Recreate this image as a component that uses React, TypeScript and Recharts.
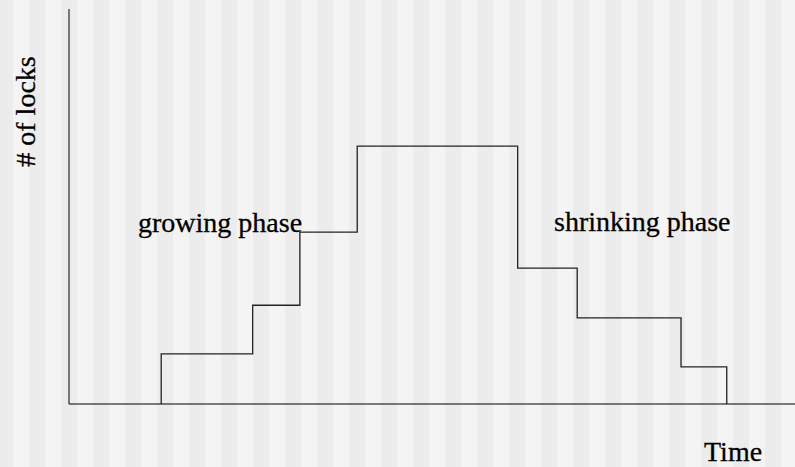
import React from 'react';
import { LineChart, Line, XAxis, YAxis, Customized } from 'recharts';

// time (0-100 across the axis) at which the lock count changes
const times = [12.7, 12.7, 25.3, 31.8, 39.7, 61.8, 70, 84.3, 90.6];
// number of locks held from that moment on (0-10 scale)
const locks = [0, 1.27, 2.5, 4.35, 6.53, 3.44, 2.18, 0.94, 0];

const phaseLabels = ['growing phase', 'shrinking phase'];
const yTitle = '# of locks';
const xTitle = 'Time';

const chartData = times.map((t, i) => ({ t, n: locks[i] }));

const font = '"Liberation Serif", "Times New Roman", serif';

const Texts = () => (
  <g fontFamily={font} fontSize={28} fill="#000" stroke="#000" strokeWidth={0.3}>
    <text x={138} y={232}>{phaseLabels[0]}</text>
    <text x={554} y={231}>{phaseLabels[1]}</text>
    <text x={704} y={461}>{xTitle}</text>
    <text
      x={35}
      y={111.5}
      textAnchor="middle"
      transform="rotate(-90, 35, 111.5)"
    >
      {yTitle}
    </text>
  </g>
);

export default function App() {
  return (
    <div
      style={{
        position: 'absolute',
        left: 0,
        top: 0,
        width: 795,
        height: 467,
        backgroundImage: 'linear-gradient(90deg, #ececec 0px, #ececec 16px, #f4f4f4 16px, #f4f4f4 32px)',
        backgroundSize: '32px 100%',
        backgroundPosition: '-3px 0',
      }}
    >
      <LineChart
        width={795}
        height={467}
        data={chartData}
        margin={{ top: 9, right: 0, left: 68, bottom: 62 }}
      >
        <XAxis
          dataKey="t"
          type="number"
          domain={[0, 100]}
          tick={false}
          tickLine={false}
          height={1}
          axisLine={{ stroke: '#000', strokeWidth: 1 }}
        />
        <YAxis
          type="number"
          domain={[0, 10]}
          tick={false}
          tickLine={false}
          width={1}
          axisLine={{ stroke: '#000', strokeWidth: 1 }}
        />
        <Line
          type="stepAfter"
          dataKey="n"
          stroke="#222"
          strokeWidth={1.3}
          dot={false}
          activeDot={false}
          isAnimationActive={false}
        />
        <Customized component={Texts} />
      </LineChart>
    </div>
  );
}
